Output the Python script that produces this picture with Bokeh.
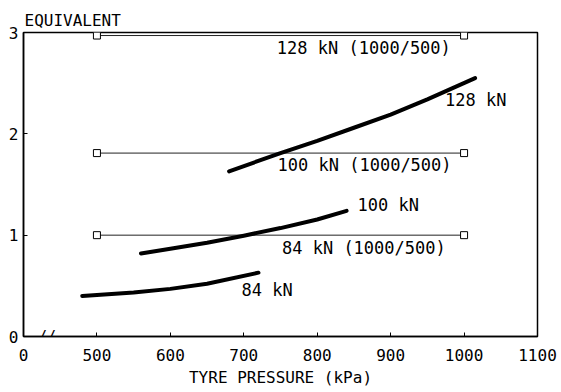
from bokeh.plotting import figure
from bokeh.models import Range1d, FixedTicker, Label, Title, ColumnDataSource
from bokeh.core.properties import value
from bokeh.embed import file_html
from bokeh.resources import INLINE

FONT = "DejaVu Sans Mono"

# Equivalence curves (tyre pressure in kPa vs equivalence factor)
p128_x = [680, 750, 800, 850, 900, 950, 1015]
p128_y = [1.63, 1.81, 1.93, 2.06, 2.19, 2.34, 2.55]

p100_x = [560, 600, 650, 700, 750, 800, 840]
p100_y = [0.82, 0.865, 0.925, 0.995, 1.07, 1.155, 1.24]

p84_x = [480, 550, 600, 650, 720]
p84_y = [0.40, 0.435, 0.47, 0.52, 0.63]

# Reference levels from the 1000/500 kPa comparison
ref_x = [500, 1000]
ref128 = [2.97, 2.97]
ref100 = [1.81, 1.81]
ref84 = [1.00, 1.00]

# Axis ticks
x_ticks = [400, 500, 600, 700, 800, 900, 1000, 1100]
x_tick_labels = ["0", "500", "600", "700", "800", "900", "1000", "1100"]
y_ticks = [0, 1, 2, 3]

# Curve annotations: text, anchor x, anchor y
ann_text = ["128 kN (1000/500)", "128 kN", "100 kN (1000/500)",
            "100 kN", "84 kN (1000/500)", "84 kN"]
ann_x = [745, 974, 746, 855, 752, 697]
ann_y = [2.85, 2.33, 1.69, 1.30, 0.87, 0.46]

p = figure(width=561, height=392, output_backend="svg", toolbar_location=None,
           x_range=Range1d(400, 1100), y_range=Range1d(0, 3))
p.min_border_left = 23
p.min_border_right = 24
p.min_border_top = 32
p.min_border_bottom = 56
p.background_fill_color = "white"
p.border_fill_color = "white"
p.grid.visible = False
p.outline_line_color = "black"
p.outline_line_width = 1.5

for ax in (p.xaxis[0], p.yaxis[0]):
    ax.axis_line_color = "black"
    ax.axis_line_width = 1.5
    ax.major_tick_in = 4
    ax.major_tick_out = 0
    ax.major_tick_line_color = "black"
    ax.minor_tick_line_color = None
    ax.major_label_text_font = FONT
    ax.major_label_text_font_size = "16px"
    ax.major_label_text_color = "black"

p.xaxis.ticker = FixedTicker(ticks=x_ticks)
p.xaxis.major_label_overrides = {t: s for t, s in zip(x_ticks, x_tick_labels)}
p.xaxis.major_label_standoff = 12
p.xaxis.axis_label = "TYRE PRESSURE (kPa)"
p.xaxis.axis_label_text_font = FONT
p.xaxis.axis_label_text_font_size = "16px"
p.xaxis.axis_label_text_font_style = "normal"
p.xaxis.axis_label_text_color = "black"
p.xaxis.axis_label_standoff = 4

p.yaxis.ticker = FixedTicker(ticks=y_ticks)
p.yaxis.major_label_standoff = 5
p.yaxis.major_label_orientation = "horizontal"

# Y-axis title sits above the axis, left-aligned with the frame
p.add_layout(Title(text="EQUIVALENT", align="left", offset=1, standoff=5,
                   text_font=FONT, text_font_size="16px",
                   text_font_style="normal", text_color="black"), "above")

# Axis break mark on the pressure axis
p.add_layout(Label(x=432, y=0, text="//", text_align="center",
                   text_baseline="middle", text_font=FONT,
                   text_font_size="15px", text_color="black"))

# Horizontal reference lines with open square end markers
for ys in (ref128, ref100, ref84):
    p.line(ref_x, ys, line_color="#222222", line_width=1)
    p.scatter(ref_x, ys, marker="square", size=7, fill_color="white",
              line_color="black", line_width=1)

# Main curves
for xs, ys in ((p128_x, p128_y), (p100_x, p100_y), (p84_x, p84_y)):
    p.line(xs, ys, line_color="black", line_width=4, line_cap="round",
           line_join="round")

src = ColumnDataSource(dict(x=ann_x, y=ann_y, t=ann_text))
p.text(x="x", y="y", text="t", source=src, text_font=value(FONT),
       text_font_size="17px", text_align="left", text_baseline="middle",
       text_color="black")

open("out.html", "w").write(file_html(p, INLINE))
